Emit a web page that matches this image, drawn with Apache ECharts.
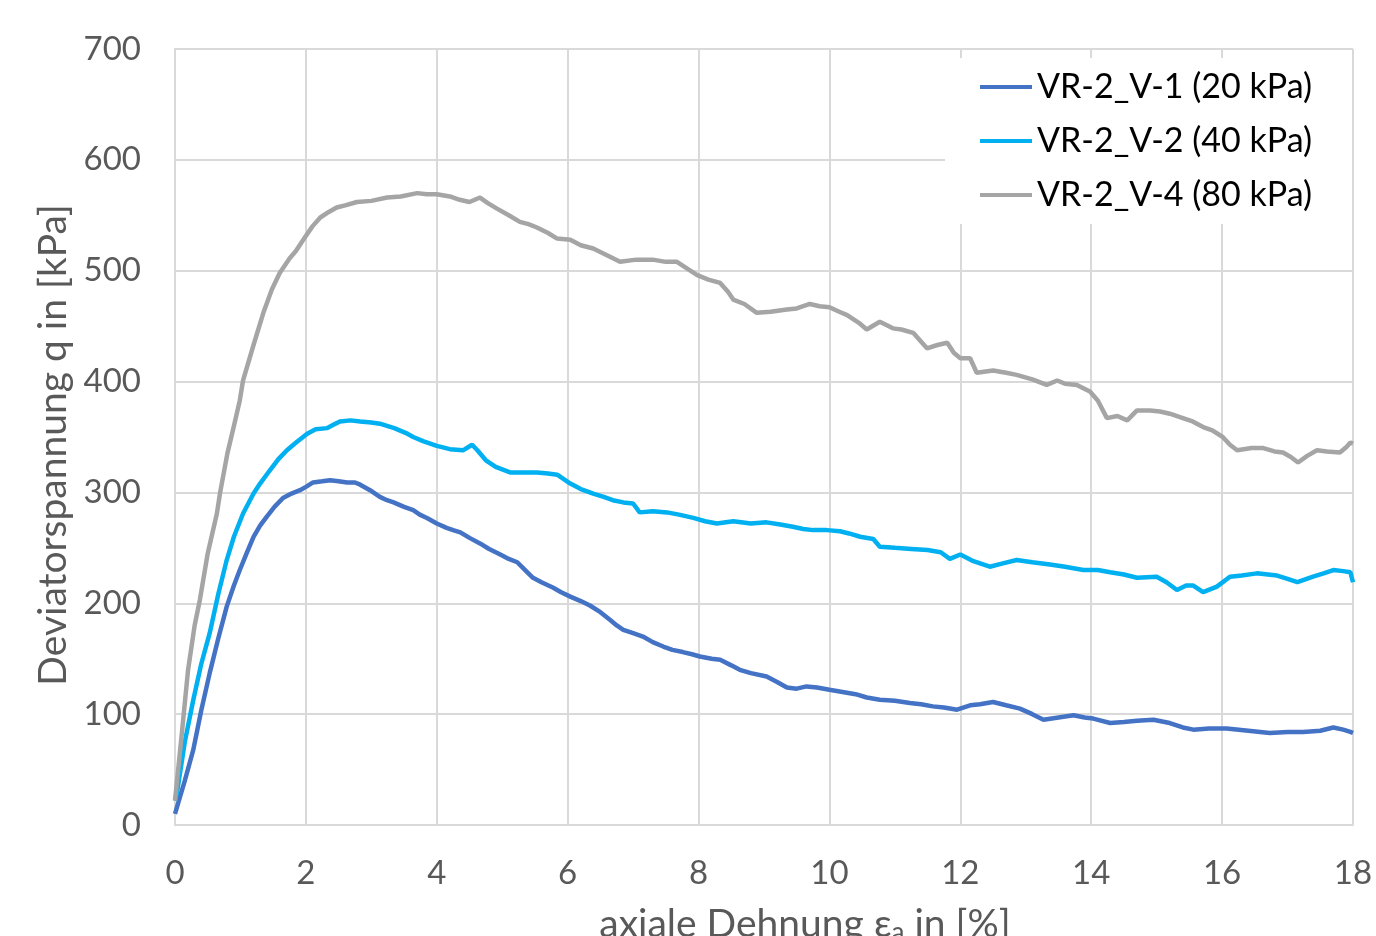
<!DOCTYPE html>
<html>
<head>
<meta charset="utf-8">
<script src="https://cdn.jsdelivr.net/npm/echarts@6/dist/echarts.min.js"></script>
<style>html,body{margin:0;padding:0;background:#fff;}#c{width:1376px;height:936px;}</style>
</head>
<body>
<div id="c"></div>
<script>
const seriesNames = ['VR-2_V-1 (20 kPa)', 'VR-2_V-2 (40 kPa)', 'VR-2_V-4 (80 kPa)'];
const xTicks = [0, 2, 4, 6, 8, 10, 12, 14, 16, 18];
const yTicks = [0, 100, 200, 300, 400, 500, 600, 700];

const v1 = [[0,10],[0.03,11],[0.15,40],[0.28,68],[0.4,103],[0.53,137],[0.66,168],[0.79,197],[0.9,216],[0.99,230],[1.1,246],[1.2,260],[1.3,270],[1.4,278],[1.52,287],[1.65,295],[1.78,299],[1.91,302],[2.0,305],[2.11,309],[2.25,310],[2.37,311],[2.5,310],[2.63,309],[2.75,309],[2.83,307],[2.98,302],[3.13,296],[3.24,293],[3.34,291],[3.5,287],[3.64,284],[3.74,280],[3.85,277],[4.0,272],[4.15,268],[4.25,266],[4.36,264],[4.5,259],[4.66,254],[4.8,249],[4.97,244],[5.1,240],[5.23,237],[5.35,230],[5.47,223],[5.6,219],[5.78,214],[5.9,210],[6.04,206],[6.2,202],[6.34,198],[6.5,192],[6.65,185],[6.75,180],[6.85,176],[7.0,173],[7.15,170],[7.3,165],[7.46,161],[7.6,158],[7.76,156],[7.9,154],[8.02,152],[8.2,150],[8.33,149],[8.5,144],[8.63,140],[8.8,137],[9.04,134],[9.2,129],[9.35,124],[9.5,123],[9.65,125],[9.81,124],[10.0,122],[10.2,120],[10.4,118],[10.57,115],[10.77,113],[11.0,112],[11.23,110],[11.4,109],[11.58,107],[11.75,106],[11.95,104],[12.15,108],[12.3,109],[12.5,111],[12.7,108],[12.91,105],[13.1,100],[13.27,95],[13.5,97],[13.73,99],[13.9,97],[14.03,96],[14.29,92],[14.5,93],[14.7,94],[14.95,95],[15.2,92],[15.4,88],[15.56,86],[15.8,87],[16.07,87],[16.4,85],[16.73,83],[17.0,84],[17.24,84],[17.5,85],[17.7,88],[17.85,86],[17.96,84],[18.0,83]];

const v2 = [[0,22],[0.03,29],[0.15,75],[0.28,113],[0.4,145],[0.53,173],[0.66,208],[0.79,239],[0.9,260],[1.04,281],[1.12,290],[1.2,299],[1.3,308],[1.45,320],[1.58,330],[1.71,338],[1.85,345],[2.02,353],[2.15,357],[2.32,358],[2.42,361],[2.52,364],[2.68,365],[2.83,364],[3.0,363],[3.13,362],[3.35,358],[3.55,353],[3.64,350],[3.8,346],[4.0,342],[4.2,339],[4.4,338],[4.54,343],[4.62,338],[4.75,329],[4.9,323],[5.12,318],[5.35,318],[5.53,318],[5.7,317],[5.84,316],[6.04,308],[6.2,303],[6.39,299],[6.55,296],[6.69,293],[6.85,291],[7.0,290],[7.1,282],[7.3,283],[7.52,282],[7.7,280],[7.92,277],[8.1,274],[8.28,272],[8.53,274],[8.8,272],[9.04,273],[9.25,271],[9.44,269],[9.6,267],[9.75,266],[9.96,266],[10.16,265],[10.3,263],[10.47,260],[10.67,258],[10.77,251],[11.0,250],[11.25,249],[11.5,248],[11.7,246],[11.84,240],[12.0,244],[12.2,238],[12.45,233],[12.65,236],[12.86,239],[13.1,237],[13.37,235],[13.6,233],[13.88,230],[14.1,230],[14.29,228],[14.5,226],[14.7,223],[15.0,224],[15.15,219],[15.31,212],[15.45,216],[15.56,216],[15.71,210],[15.92,215],[16.12,224],[16.3,225],[16.53,227],[16.7,226],[16.84,225],[17.0,222],[17.15,219],[17.39,224],[17.55,227],[17.7,230],[17.85,229],[17.96,228],[18.0,219]];

const v4 = [[0,22],[0.1,80],[0.2,140],[0.3,180],[0.38,203],[0.5,245],[0.64,281],[0.69,300],[0.8,335],[0.9,360],[0.99,383],[1.04,401],[1.2,433],[1.35,462],[1.48,483],[1.6,498],[1.75,511],[1.85,518],[1.96,528],[2.1,540],[2.22,548],[2.35,553],[2.47,557],[2.6,559],[2.78,562],[3.0,563],[3.24,566],[3.45,567],[3.7,570],[3.85,569],[4.0,569],[4.2,567],[4.35,564],[4.5,562],[4.66,566],[4.78,561],[4.92,556],[5.1,550],[5.27,544],[5.4,542],[5.53,539],[5.7,534],[5.84,529],[6.04,528],[6.2,523],[6.39,520],[6.6,514],[6.8,508],[7.05,510],[7.3,510],[7.5,508],[7.67,508],[7.85,501],[7.98,496],[8.15,492],[8.33,489],[8.45,481],[8.53,474],[8.7,470],[8.89,462],[9.1,463],[9.35,465],[9.5,466],[9.7,470],[9.85,468],[10.0,467],[10.15,463],[10.27,460],[10.45,453],[10.57,447],[10.77,454],[10.97,448],[11.1,447],[11.28,444],[11.49,430],[11.65,433],[11.8,435],[11.9,426],[12.0,421],[12.15,421],[12.25,408],[12.5,410],[12.7,408],[12.86,406],[13.1,402],[13.32,397],[13.48,401],[13.6,398],[13.78,397],[13.98,391],[14.1,383],[14.24,367],[14.4,369],[14.55,365],[14.7,374],[14.9,374],[15.05,373],[15.2,371],[15.4,367],[15.55,364],[15.71,359],[15.85,356],[16.01,350],[16.12,343],[16.23,338],[16.45,340],[16.63,340],[16.8,337],[16.93,336],[17.05,332],[17.16,327],[17.3,333],[17.45,338],[17.6,337],[17.8,336],[17.9,341],[17.96,345],[18.0,344]];

const colors = ['#4472C4', '#00B0F0', '#A5A5A5'];
const FONT = 'Lato';
const chart = echarts.init(document.getElementById('c'), null, {renderer: 'canvas'});
const mk = (name, data, color) => ({
  name, type: 'line', data, showSymbol: false, symbol: 'none',
  lineStyle: {width: 4.5, color}, itemStyle: {color}, animation: false
});
chart.setOption({
  animation: false,
  textStyle: {fontFamily: FONT},
  grid: {left: 175, right: 23, top: 49, bottom: 111, containLabel: false, outerBoundsMode: 'none'},
  xAxis: {
    type: 'value', min: xTicks[0], max: xTicks[xTicks.length - 1], interval: 2,
    name: '{n|axiale Dehnung ε}{s|a}{n| in [%]}',
    nameLocation: 'middle', nameGap: 77,
    nameTextStyle: {padding: [0, 0, 0, 82], rich: {
      n: {fontSize: 39, color: '#595959', fontFamily: FONT},
      s: {fontSize: 26, color: '#595959', fontFamily: FONT, padding: [18, 0, 0, 0]}
    }},
    axisLine: {show: true, lineStyle: {color: '#D9D9D9', width: 2}},
    axisTick: {show: false},
    axisLabel: {color: '#595959', fontSize: 33, margin: 32, fontFamily: FONT},
    splitLine: {show: true, lineStyle: {color: '#D9D9D9', width: 2}}
  },
  yAxis: {
    type: 'value', min: yTicks[0], max: yTicks[yTicks.length - 1], interval: 100,
    name: 'Deviatorspannung q in [kPa]', nameLocation: 'middle', nameGap: 98,
    nameTextStyle: {color: '#595959', fontSize: 39, fontFamily: FONT, padding: [0, 16, 0, 0]},
    axisLine: {show: true, lineStyle: {color: '#D9D9D9', width: 2}},
    axisTick: {show: false},
    axisLabel: {color: '#595959', fontSize: 33, margin: 34, fontFamily: FONT},
    splitLine: {show: true, lineStyle: {color: '#D9D9D9', width: 2}}
  },
  legend: {
    orient: 'vertical', left: 945, top: 58,
    padding: [12, 40, 12, 35], backgroundColor: '#ffffff',
    itemWidth: 52, itemHeight: 4, itemGap: 20, icon: 'rect',
    textStyle: {color: '#000000', fontSize: 34, fontFamily: FONT, lineHeight: 30},
    data: seriesNames
  },
  series: [mk(seriesNames[0], v1, colors[0]), mk(seriesNames[1], v2, colors[1]), mk(seriesNames[2], v4, colors[2])]
});
</script>
</body>
</html>
